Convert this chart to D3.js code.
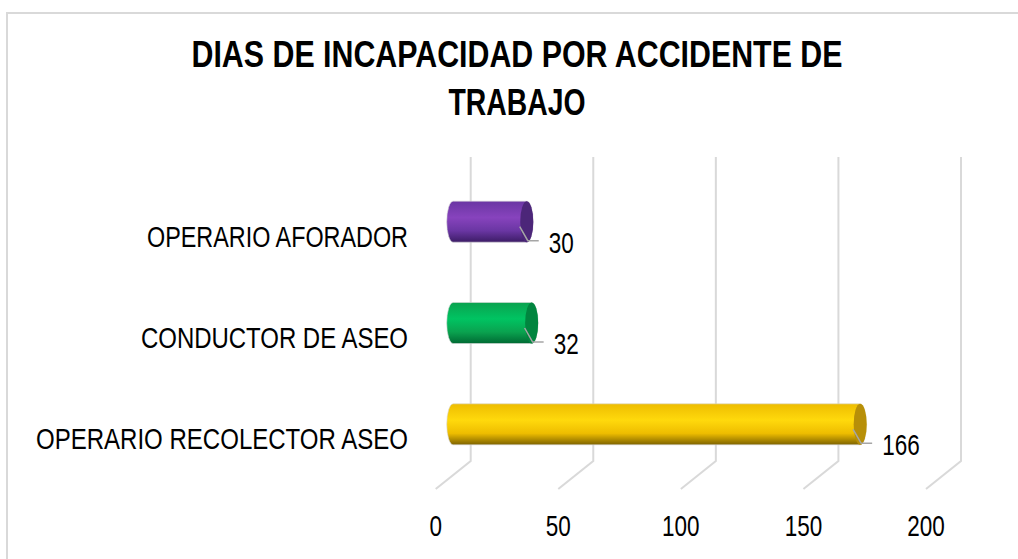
<!DOCTYPE html>
<html>
<head>
<meta charset="utf-8">
<script src="https://cdn.jsdelivr.net/npm/d3@7"></script>
<style>
  html, body { margin: 0; padding: 0; background: #fff; }
  svg { display: block; }
</style>
</head>
<body>
<div id="output"></div>
<script>
// chart values, top row first
const categories = ["OPERARIO AFORADOR", "CONDUCTOR DE ASEO", "OPERARIO RECOLECTOR ASEO"];
const values = [30, 32, 166];
const tickValues = [0, 50, 100, 150, 200];
const titleLines = ["DIAS DE INCAPACIDAD POR ACCIDENTE DE", "TRABAJO"];

// colours per bar: [top, middle, bottom, end cap]
const barColors = [
  ["#6a36a3", "#8743bd", "#3c1c66", "#4c2679"],
  ["#0aa24f", "#00c462", "#006a33", "#01853f"],
  ["#eebd00", "#ffd90c", "#7d6200", "#b78f08"]
];

const width = 1018, height = 559;
const font = "'Liberation Sans', Arial, sans-serif";
const narrowFactor = 0.75; // the original uses a narrow face

// 3d depth vector of the floor (back wall -> front edge)
const depthX = -35, depthY = 28;

const svg = d3.select("#output").append("svg")
  .attr("width", width)
  .attr("height", height);

// squeeze a text selection horizontally
function squeeze(sel) {
  sel.each(function() {
    const w = this.getComputedTextLength();
    d3.select(this)
      .attr("textLength", w * narrowFactor)
      .attr("lengthAdjust", "spacingAndGlyphs");
  });
}

// outer frame
svg.append("rect")
  .attr("x", 7).attr("y", 13)
  .attr("width", 1200).attr("height", 700)
  .attr("fill", "none")
  .attr("stroke", "#d9d9d9")
  .attr("stroke-width", 2);

// title
const titleWidths = [651, 137];
svg.append("g")
  .selectAll("text")
  .data(titleLines)
  .join("text")
  .attr("x", 517)
  .attr("y", (d, i) => 67 + i * 48)
  .attr("text-anchor", "middle")
  .attr("font-family", font)
  .attr("font-weight", "bold")
  .attr("font-size", 36)
  .attr("fill", "#000")
  .attr("textLength", (d, i) => titleWidths[i])
  .attr("lengthAdjust", "spacingAndGlyphs")
  .text(d => d);

// scales on the back wall
const x = d3.scaleLinear().domain([0, 200]).range([470.7, 961]);
const y = d3.scaleBand().domain(categories).range([157, 461]);

// gridlines: up the back wall, then across the floor towards the viewer
svg.append("g")
  .attr("fill", "none")
  .attr("stroke", "#d9d9d9")
  .attr("stroke-width", 2)
  .selectAll("path")
  .data(tickValues)
  .join("path")
  .attr("d", d => `M${x(d)},${y.range()[0]}V${y.range()[1]}l${depthX},${depthY}`);

// value axis labels at the front edge
svg.append("g")
  .attr("font-family", font)
  .attr("font-size", 30)
  .attr("fill", "#000")
  .selectAll("text")
  .data(tickValues)
  .join("text")
  .attr("x", d => x(d) + depthX)
  .attr("y", 536)
  .attr("text-anchor", "middle")
  .text(d => d)
  .call(squeeze);

// category labels at the front edge
const catWidths = [261, 267, 372];
svg.append("g")
  .attr("font-family", font)
  .attr("font-size", 29)
  .attr("fill", "#000")
  .selectAll("text")
  .data(categories)
  .join("text")
  .attr("x", 408)
  .attr("y", d => y(d) + y.bandwidth() / 2 + depthY + 11)
  .attr("text-anchor", "end")
  .attr("textLength", (d, i) => catWidths[i])
  .attr("lengthAdjust", "spacingAndGlyphs")
  .text(d => d);

// gradients for the cylinders
const defs = svg.append("defs");
barColors.forEach((c, i) => {
  const g = defs.append("linearGradient")
    .attr("id", "cyl" + i)
    .attr("x1", 0).attr("y1", 0).attr("x2", 0).attr("y2", 1);
  g.append("stop").attr("offset", "0%").attr("stop-color", c[0]);
  g.append("stop").attr("offset", "40%").attr("stop-color", c[1]);
  g.append("stop").attr("offset", "72%").attr("stop-color", c[0]);
  g.append("stop").attr("offset", "100%").attr("stop-color", c[2]);
});

// bars sit half way into the depth
const rx = 6.5, ry = 20.5;
const bars = categories.map((c, i) => ({
  cat: c,
  value: values[i],
  i: i,
  x0: x(0) + depthX / 2,
  x1: x(values[i]) + depthX / 2,
  yc: y(c) + y.bandwidth() / 2 + depthY / 2
}));

const bar = svg.append("g")
  .selectAll("g")
  .data(bars)
  .join("g");

bar.append("path")
  .attr("fill", d => `url(#cyl${d.i})`)
  .attr("stroke", "#d9d9d9")
  .attr("stroke-width", 0.6)
  .attr("d", d => `M${d.x0},${d.yc - ry}L${d.x1},${d.yc - ry}` +
    `A${rx},${ry} 0 0 1 ${d.x1},${d.yc + ry}L${d.x0},${d.yc + ry}` +
    `A${rx},${ry} 0 0 1 ${d.x0},${d.yc - ry}Z`);

bar.append("ellipse")
  .attr("cx", d => d.x1)
  .attr("cy", d => d.yc)
  .attr("rx", rx)
  .attr("ry", ry)
  .attr("fill", d => barColors[d.i][3]);

// leader lines and data labels
bar.append("path")
  .attr("fill", "none")
  .attr("stroke", "#a6a6a6")
  .attr("stroke-width", 1.5)
  .attr("d", d => `M${d.x1 - 7},${d.yc + 5}L${d.x1 + 1},${d.yc + 19}H${d.x1 + 12}`);

bar.append("text")
  .attr("x", d => d.x1 + 22)
  .attr("y", d => d.yc + 31)
  .attr("font-family", font)
  .attr("font-size", 30)
  .attr("fill", "#000")
  .text(d => d.value)
  .call(squeeze);
</script>
</body>
</html>
